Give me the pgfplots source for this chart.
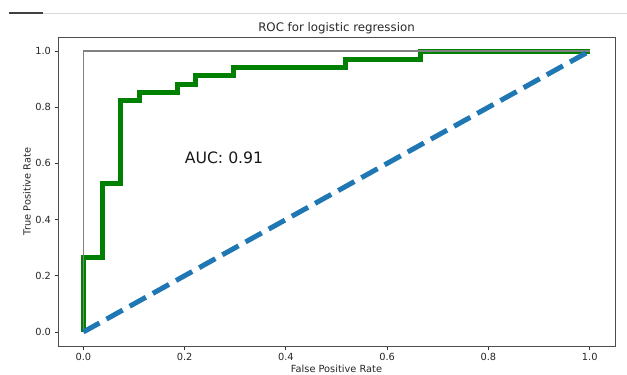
\documentclass[border=0pt]{standalone}
\usepackage{fontspec}
\setmainfont{DejaVu Sans}
\usepackage{pgfplots}
\pgfplotsset{compat=1.18}
\definecolor{mplblue}{HTML}{1F77B4}
\definecolor{mplgreen}{RGB}{0,128,0}
\begin{document}
\begin{tikzpicture}[x=1bp,y=1bp]
\path[use as bounding box] (0,0) rectangle (627,374);
\draw[black!75, line width=1.5bp] (9,361) -- (43,361);
\draw[black!15, line width=1bp] (43,360) -- (627,360);
\begin{axis}[
  at={(58bp,28bp)}, anchor=south west,
  scale only axis, width=557bp, height=309bp,
  xmin=-0.05, xmax=1.05, ymin=-0.05, ymax=1.05,
  xtick={0,0.2,0.4,0.6,0.8,1.0}, ytick={0,0.2,0.4,0.6,0.8,1.0},
  xticklabel style={/pgf/number format/.cd,fixed,fixed zerofill,precision=1},
  yticklabel style={/pgf/number format/.cd,fixed,fixed zerofill,precision=1},
  /pgf/number format/assume math mode=true,
  tick label style={font=\fontsize{9.8bp}{11bp}\selectfont, text=black!85},
  tick align=outside, major tick length=3.5bp,
  every tick/.style={black!80, line width=0.8bp},
  xtick pos=bottom, ytick pos=left,
  axis line style={black!70, line width=0.8bp},
  clip=false,
]
\addplot[mplgreen, line width=5bp, line join=miter] coordinates {
(0,0) (0,0.2647) (0.0370,0.2647) (0.0370,0.5294) (0.0741,0.5294)
(0.0741,0.8235) (0.1111,0.8235) (0.1111,0.8529) (0.1852,0.8529)
(0.1852,0.8824) (0.2222,0.8824) (0.2222,0.9118) (0.2963,0.9118)
(0.2963,0.9412) (0.5185,0.9412) (0.5185,0.9706) (0.6667,0.9706)
(0.6667,1) (1,1)};
\addplot[gray, line width=1.3bp] coordinates {(0,0) (0,1) (1,1)};
\addplot[mplblue, line width=5bp, dash pattern=on 18.5bp off 8bp] coordinates {(0,0) (1,1)};
\node[anchor=base west, inner sep=0pt, font=\fontsize{15.7bp}{18bp}\selectfont, text=black!90] at (axis cs:0.2,0.6) {AUC: 0.91};
\end{axis}
\node[anchor=base, inner sep=0pt, font=\fontsize{11.8bp}{13bp}\selectfont, text=black!85] at (336.5,342.7) {ROC for logistic regression};
\node[anchor=base, inner sep=0pt, font=\fontsize{9.8bp}{11bp}\selectfont, text=black!85] at (336.5,1.5) {False Positive Rate};
\node[anchor=center, rotate=90, inner sep=0pt, font=\fontsize{9.8bp}{11bp}\selectfont, text=black!85] at (27,182.5) {True Positive Rate};
\end{tikzpicture}
\end{document}
